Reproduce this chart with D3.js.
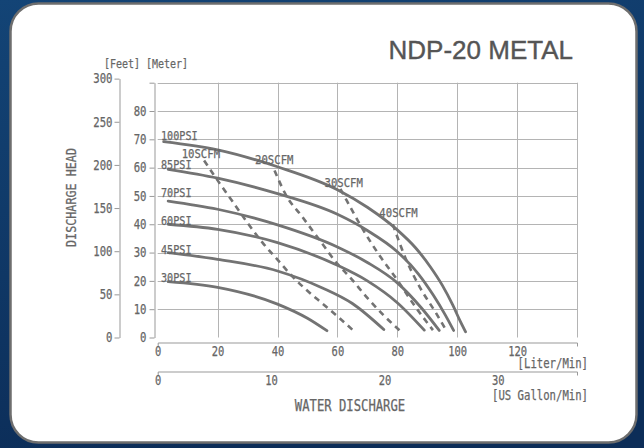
<!DOCTYPE html>
<html><head><meta charset="utf-8">
<script src="https://cdn.jsdelivr.net/npm/d3@7"></script>
<style>html,body{margin:0;padding:0;background:#10396a;}svg{display:block;}</style>
</head><body>
<svg id="c" width="644" height="448"></svg>
<script>
// ---- data ----
const literTicks = [0, 20, 40, 60, 80, 100, 120];
const gallonTicks = [0, 10, 20, 30];
const feetTicks = [0, 50, 100, 150, 200, 250, 300];
const meterTicks = [0, 10, 20, 30, 40, 50, 60, 70, 80, 90];
const psiLabels = ["100PSI", "85PSI", "70PSI", "60PSI", "45PSI", "30PSI"];
const psiLabelHead = [70, 60, 50, 40, 30, 20];
// [liter/min, meter]
const psi100 = [[2,69.2],[20,66.3],[40,60.3],[60,52.2],[70,46],[80,38],[86,31.8],[91,25],[95,18.5],[98.5,11.5],[101,5.8],[102.8,2]];
const psi85  = [[3.5,59.4],[20,56.3],[40,50.8],[60,43.5],[70,37.8],[80,30.3],[87,22.5],[92,15],[96,8],[98.8,2.5]];
const psi70  = [[3.5,48.2],[20,45.3],[40,39.8],[60,32],[70,26.5],[80,19.3],[88,10.5],[94,2.5]];
const psi60  = [[3.5,40],[20,38.2],[40,33.5],[60,25.5],[70,20],[80,12.3],[89,2.6]];
const psi45  = [[3.5,30],[20,27.6],[40,23.5],[55,17.5],[65,12],[75.5,2.8]];
const psi30  = [[3.5,19.7],[20,17.7],[40,11.8],[50,6.8],[56.5,2.4]];
const scfmLabels = ["10SCFM", "20SCFM", "30SCFM", "40SCFM"];
const scfm10 = [[15.5,62.5],[20,55.5],[25,48],[30,40.5],[35,33.5],[40,27.5],[45,21.5],[50,16.5],[55,12],[60,7.5],[65.8,2]];
const scfm20 = [[39,59],[43,50],[48,43],[54,34.5],[60,26],[64,21.5],[70,14],[75.3,8],[81.3,2]];
const scfm30 = [[61,52.5],[63,48.6],[68.6,38],[74.3,28.6],[80,20.3],[85.2,12.1],[91.9,2.6]];
const scfm40 = [[78.5,40],[83,27.4],[87.4,18],[93,8.5],[96.3,2.6]];
const psiSeries = [psi100, psi85, psi70, psi60, psi45, psi30];
const scfmSeries = [scfm10, scfm20, scfm30, scfm40];
// label anchor points in data units [liter, meter]
const scfmLabelPos = [[8, 63.4], [32.5, 61.2], [55.7, 53.2], [74, 42.4]];

const FT_TO_M = 0.3048, GAL_TO_L = 3.78541;

// ---- drawing ----
const svg = d3.select("#c");
const defs = svg.append("defs");
const grad = defs.append("linearGradient").attr("id","bg").attr("x1",0).attr("y1",0).attr("x2",0.3).attr("y2",1);
grad.append("stop").attr("offset","0%").attr("stop-color","#134476");
grad.append("stop").attr("offset","100%").attr("stop-color","#0c2d58");
svg.append("rect").attr("width",644).attr("height",448).attr("fill","url(#bg)");
svg.append("rect").attr("x",10.5).attr("y",3.5).attr("width",626).attr("height",439)
  .attr("rx",28).attr("fill","#fff").attr("stroke","#6e6e6e").attr("stroke-width",2.5);

const TXT = "#666";
const MONO = "DejaVu Sans Mono";
function mono(str, x, y, size, charW, anchor) {
  const t = svg.append("text").attr("x", x).attr("y", y).text(str)
    .attr("font-family", MONO).attr("font-size", size).attr("fill", TXT)
    .attr("stroke", TXT).attr("stroke-width", 0.25)
    .attr("text-anchor", anchor || "start");
  if (charW) t.attr("textLength", str.length * charW).attr("lengthAdjust", "spacingAndGlyphs");
  return t;
}

const x = d3.scaleLinear().domain([0, 140]).range([157.7, 577]);
const y = d3.scaleLinear().domain([0, 90]).range([337.5, 82.7]);
const yFt = d3.scaleLinear().domain([0, 300]).range([y(0), y(300 * FT_TO_M)]);
const xGal = d3.scaleLinear().domain([0, 140 / GAL_TO_L]).range([x(0), x(140)]);

// grid
const grid = svg.append("g").attr("stroke", "#b4b4b4").attr("stroke-width", 1);
meterTicks.filter(d => d > 0).forEach(m => {
  grid.append("line").attr("x1", x(0)).attr("x2", x(140)).attr("y1", Math.round(y(m)) + 0.5).attr("y2", Math.round(y(m)) + 0.5);
});
[20, 40, 60, 80, 100, 120, 140].forEach(l => {
  grid.append("line").attr("x1", Math.round(x(l)) + 0.5).attr("x2", Math.round(x(l)) + 0.5).attr("y1", y(90)).attr("y2", y(0));
});

function styleAxis(g, size, charW) {
  g.select(".domain").attr("stroke", "#999");
  g.selectAll(".tick line").attr("stroke", "#999");
  g.selectAll("text").attr("font-family", MONO).attr("font-size", size).attr("fill", TXT)
    .attr("stroke", TXT).attr("stroke-width", 0.25)
    .each(function () { const s = this.textContent; if (s) d3.select(this).attr("textLength", s.length * charW).attr("lengthAdjust", "spacingAndGlyphs"); });
}

// feet axis
const gFt = svg.append("g").attr("transform", "translate(119.5,0)")
  .call(d3.axisLeft(yFt).tickValues(feetTicks).tickSize(5).tickSizeOuter(0).tickPadding(2));
styleAxis(gFt, 13.5, 6.4);
// meter axis
const gM = svg.append("g").attr("transform", "translate(154.5,0)")
  .call(d3.axisLeft(y).tickValues(meterTicks).tickSize(5).tickSizeOuter(0).tickPadding(3)
    .tickFormat(d => d === 90 ? "" : d));
styleAxis(gM, 13.5, 6.4);
// liter axis
const gL = svg.append("g").attr("transform", "translate(0,342.5)")
  .call(d3.axisBottom(x).tickValues(literTicks).tickSizeInner(0).tickSizeOuter(4).tickPadding(4));
styleAxis(gL, 14, 6.3);
// gallon axis
const gG = svg.append("g").attr("transform", "translate(0,371.5)")
  .call(d3.axisBottom(xGal).tickValues(gallonTicks).tickSizeInner(0).tickSizeOuter(4).tickPadding(4));
styleAxis(gG, 14, 6.3);

// texts
svg.append("text").attr("x", 573).attr("y", 59).attr("text-anchor", "end")
  .attr("font-family", "Liberation Sans, Arial, sans-serif").attr("font-size", 26)
  .attr("fill", "#555").attr("stroke", "#555").attr("stroke-width", 0.4).text("NDP-20 METAL");
mono("[Feet] [Meter]", 104, 68, 13, 6.0);
mono("[Liter/Min]", 588, 368, 13.5, 6.4, "end");
mono("[US Gallon/Min]", 588, 400, 13.5, 6.4, "end");
mono("WATER  DISCHARGE", 350, 410.5, 15, 6.9, "middle");
svg.append("text").attr("transform", "translate(76,197.5) rotate(-90)")
  .attr("text-anchor", "middle").attr("font-family", MONO).attr("font-size", 14.5).attr("fill", TXT)
  .attr("stroke", TXT).attr("stroke-width", 0.25)
  .attr("textLength", 15 * 6.6).attr("lengthAdjust", "spacingAndGlyphs").text("DISCHARGE  HEAD");

// curves
const line = d3.line().x(d => x(d[0])).y(d => y(d[1])).curve(d3.curveMonotoneX);
const curveG = svg.append("g").attr("fill", "none").attr("stroke", "#737373").attr("stroke-linecap", "round");
psiSeries.forEach(s => curveG.append("path").attr("d", line(s)).attr("stroke-width", 2.8));
scfmSeries.forEach(s => curveG.append("path").attr("d", line(s)).attr("stroke-width", 2.6).attr("stroke-dasharray", "6,5").attr("stroke-linecap", "butt"));

// curve labels
psiLabels.forEach((lab, i) => mono(lab, 161, y(psiLabelHead[i]) + 1, 13, 6.1));
scfmLabels.forEach((lab, i) => mono(lab, x(scfmLabelPos[i][0]), y(scfmLabelPos[i][1]), 13, 6.4));
</script>
</body></html>
